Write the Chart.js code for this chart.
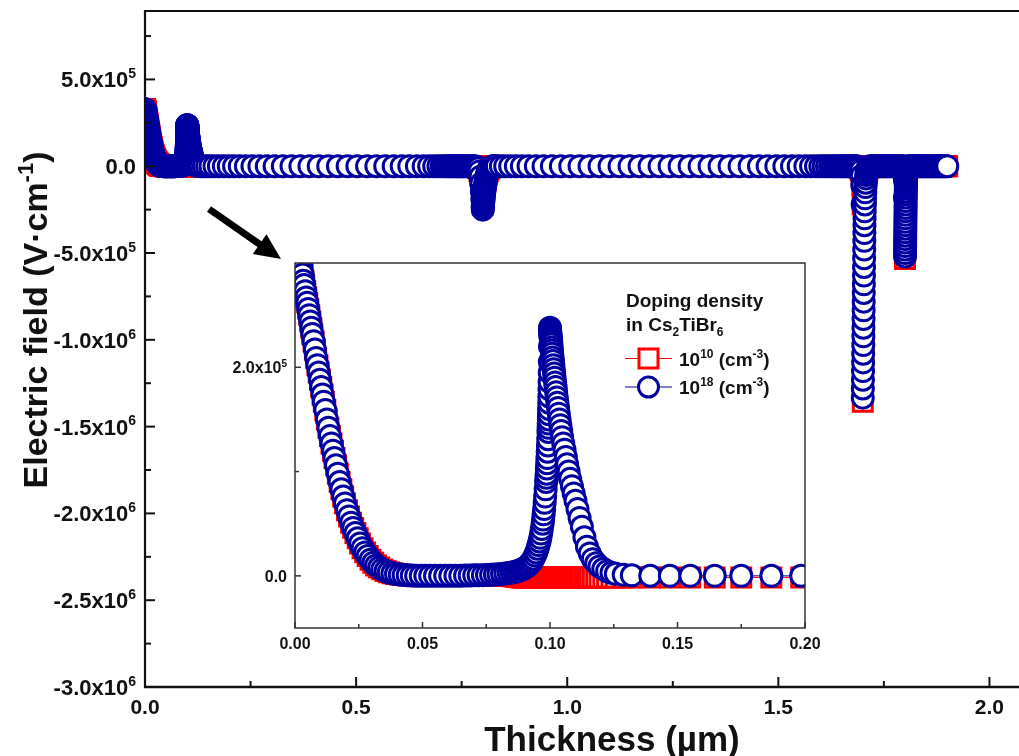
<!DOCTYPE html>
<html>
<head>
<meta charset="utf-8">
<title>Electric field vs thickness</title>
<script src="https://cdn.jsdelivr.net/npm/chart.js"></script>
<style>
  html, body { margin: 0; padding: 0; background: #fff; overflow: hidden; }
  #wrap { position: relative; width: 1019px; height: 756px; }
  #main { position: absolute; left: 0; top: 0; }
  #inset { position: absolute; left: 230px; top: 250px; }
</style>
</head>
<body>
<div id="wrap">
  <canvas id="main" width="1019" height="756"></canvas>
  <canvas id="inset" width="590" height="420"></canvas>
</div>
<script>
// ── Data: position in the stack (µm) and electric field (V/cm) ─────────────
const thickness = [
  // front layer 0 – 0.1
  0, 0.0002, 0.0004, 0.0006, 0.0008, 0.001, 0.0012, 0.0015, 0.0018, 0.0021,
  0.0024, 0.0027, 0.003, 0.0033, 0.0036, 0.004, 0.0044, 0.0048, 0.0052, 0.0056,
  0.006, 0.0064, 0.0068, 0.0073, 0.0078, 0.0083, 0.0088, 0.0093, 0.0098, 0.0103,
  0.0108, 0.0113, 0.0119, 0.0125, 0.0131, 0.0137, 0.0143, 0.0149, 0.0155, 0.0161,
  0.0168, 0.0175, 0.0182, 0.0189, 0.0196, 0.0204, 0.0212, 0.022, 0.0228, 0.0237,
  0.0246, 0.0255, 0.0265, 0.0275, 0.0285, 0.0296, 0.0307, 0.0318, 0.033, 0.0342,
  0.0355, 0.0368, 0.0382, 0.0396, 0.0411, 0.0426, 0.0442, 0.0458, 0.0475, 0.0493,
  0.0511, 0.053, 0.0549, 0.0569, 0.0589, 0.0609, 0.0629, 0.0648, 0.0667, 0.0685,
  0.0703, 0.072, 0.0737, 0.0753, 0.0769, 0.0784, 0.0798, 0.0812, 0.0825, 0.0838,
  0.085, 0.0861, 0.0871, 0.0881, 0.089, 0.0899, 0.0907, 0.0915, 0.0922, 0.0929,
  0.0935, 0.0941, 0.0946, 0.0951, 0.0955, 0.0959, 0.0962, 0.0965, 0.0968, 0.0971,
  0.0973, 0.0975, 0.0977, 0.0979, 0.0981, 0.0983, 0.0985, 0.0986, 0.0987, 0.0988,
  0.0989, 0.099, 0.0991, 0.0992, 0.0993, 0.0994, 0.09945, 0.0995, 0.09955, 0.0996,
  0.09965, 0.0997, 0.09975, 0.0998, 0.09985, 0.0999, 0.09995, 0.1,
  // second layer 0.1 – 0.8
  0.1, 0.10003, 0.10006, 0.1001, 0.10014, 0.10019, 0.10024, 0.1003, 0.10037, 0.10045,
  0.10054, 0.10064, 0.10075, 0.10087, 0.101, 0.10115, 0.1013, 0.10146, 0.10163, 0.10181,
  0.102, 0.1022, 0.10242, 0.10265, 0.1029, 0.10317, 0.10345, 0.10375, 0.10407, 0.1044,
  0.10475, 0.1052, 0.1057, 0.1062, 0.1067, 0.1073, 0.1079, 0.1086, 0.1093, 0.11,
  0.1108, 0.1116, 0.1125, 0.1135, 0.1145, 0.1156, 0.1168, 0.1181, 0.1194, 0.1209,
  0.1224, 0.1241, 0.1258, 0.1289, 0.1321, 0.1393, 0.147, 0.155, 0.1646, 0.175,
  0.1868, 0.1985,
  0.211, 0.2245, 0.239, 0.2545, 0.271, 0.2885, 0.307, 0.3265, 0.347, 0.368,
  0.3895, 0.4115, 0.434, 0.457, 0.48, 0.503, 0.526, 0.548, 0.569, 0.589,
  0.608, 0.626, 0.644, 0.66, 0.673, 0.685, 0.695, 0.703, 0.709, 0.7145,
  0.7195, 0.724, 0.728, 0.732, 0.736, 0.74, 0.744, 0.748, 0.752, 0.756,
  0.76, 0.764, 0.768, 0.772, 0.776, 0.78,
  // interface at 0.8
  0.783, 0.786, 0.789, 0.792, 0.7945, 0.7965, 0.798, 0.799, 0.7997, 0.8,
  0.8003, 0.8007, 0.8011, 0.8016, 0.8021, 0.8027, 0.8033, 0.804, 0.8047, 0.8055,
  0.8063, 0.8072, 0.8082, 0.8093, 0.8105, 0.8118, 0.8133, 0.815, 0.8169, 0.819,
  0.8213, 0.8238, 0.8265, 0.8298, 0.8334,
  // absorber 0.8 – 1.7
  0.8429, 0.8531, 0.8649, 0.8784, 0.8926, 0.9084, 0.9258, 0.9439, 0.9637, 0.985,
  1.0071, 1.0292, 1.0529, 1.0766, 1.1003, 1.124, 1.1477, 1.1714, 1.1951, 1.2188,
  1.2425, 1.2662, 1.2899, 1.3136, 1.3372, 1.3609, 1.3846, 1.4083, 1.432, 1.4542,
  1.4747, 1.4953, 1.5142, 1.5324, 1.5482, 1.564, 1.5775, 1.5893, 1.5995, 1.6074,
  1.6153, 1.6225, 1.629, 1.635, 1.6405, 1.6455, 1.65, 1.654, 1.658, 1.662,
  1.666, 1.67, 1.674, 1.678, 1.682, 1.686,
  // interface at 1.7
  1.69, 1.693, 1.6955, 1.6975, 1.699, 1.6997, 1.7,
  1.7002, 1.7004, 1.7006, 1.7008, 1.701, 1.7012, 1.7014, 1.7016, 1.7018, 1.702,
  1.7022, 1.7024, 1.7026, 1.7028, 1.703, 1.7032, 1.7034, 1.7036, 1.7038, 1.704,
  1.7043, 1.7046, 1.705, 1.7054, 1.7059, 1.7064, 1.707, 1.7077, 1.7085, 1.7094,
  1.7105, 1.712, 1.714, 1.717,
  // layer 1.7 – 1.8
  1.721, 1.725, 1.729, 1.733, 1.737, 1.741, 1.745, 1.749, 1.753, 1.757,
  1.761, 1.765, 1.769, 1.773, 1.777, 1.781, 1.785, 1.789, 1.792, 1.795,
  // interface at 1.8
  1.797, 1.7985, 1.7993, 1.7997, 1.7999, 1.8,
  1.8001, 1.8002, 1.8003, 1.8004, 1.8005, 1.8006, 1.8007, 1.8008, 1.8009, 1.801,
  1.8011, 1.8012, 1.8013, 1.8014, 1.8015, 1.8016, 1.8017, 1.8018, 1.8019, 1.802,
  1.8021, 1.8022, 1.8023, 1.8025, 1.8027, 1.8029, 1.8032, 1.8035, 1.8039, 1.8044,
  1.805, 1.8057, 1.8066, 1.8078, 1.8093,
  // back layer 1.8 – 1.9
  1.813, 1.817, 1.821, 1.825, 1.829, 1.833, 1.837, 1.841, 1.845, 1.849,
  1.853, 1.857, 1.861, 1.865, 1.869, 1.873, 1.877, 1.881, 1.885, 1.889,
  1.893, 1.897, 1.9,
];

// doping 1e10 cm^-3
const fieldLow = [
  3.30e5, 3.27e5, 3.25e5, 3.22e5, 3.19e5, 3.16e5, 3.135e5, 3.095e5, 3.05e5, 3.01e5,
  2.97e5, 2.93e5, 2.89e5, 2.83e5, 2.79e5, 2.73e5, 2.67e5, 2.62e5, 2.56e5, 2.50e5,
  2.44e5, 2.38e5, 2.32e5, 2.25e5, 2.17e5, 2.09e5, 2.02e5, 1.95e5, 1.88e5, 1.81e5,
  1.74e5, 1.67e5, 1.59e5, 1.50e5, 1.42e5, 1.34e5, 1.27e5, 1.20e5, 1.13e5, 1.06e5,
  9.8e4, 9.0e4, 8.3e4, 7.6e4, 6.95e4, 6.3e4, 5.7e4, 5.1e4, 4.6e4, 4.1e4,
  3.6e4, 3.1e4, 2.65e4, 2.25e4, 1.9e4, 1.55e4, 1.25e4, 1.0e4, 8.0e3, 6.2e3,
  4.7e3, 3.5e3, 2.5e3, 1.8e3, 1.2e3, 800, 500, 300, 200, 100,
  0, 0, 0, 0, 0, 0, 0, 0, 0, 0,
  0, 0, 0, 0, 0, 0, 0, 0, 0, 0,
  -300, -700, -1.1e3, -1.3e3, -1.5e3, -1.5e3, -1.5e3, -1.5e3, -1.5e3, -1.5e3,
  -1.5e3, -1.5e3, -1.5e3, -1.5e3, -1.5e3, -1.5e3, -1.5e3, -1.5e3, -1.5e3, -1.5e3,
  -1.5e3, -1.5e3, -1.5e3, -1.5e3, -1.5e3, -1.5e3, -1.5e3, -1.5e3, -1.5e3, -1.5e3,
  -1.5e3, -1.5e3, -1.5e3, -1.5e3, -1.5e3, -1.5e3, -1.5e3, -1.5e3, -1.5e3, -1.5e3,
  -1.5e3, -1.5e3, -1.5e3, -1.5e3, -1.5e3, -1.5e3, -1.5e3, -1.5e3,
  -1.5e3, -1.5e3, -1.5e3, -1.5e3, -1.5e3, -1.5e3, -1.5e3, -1.5e3, -1.5e3, -1.5e3,
  -1.5e3, -1.5e3, -1.5e3, -1.5e3, -1.5e3, -1.5e3, -1.5e3, -1.5e3, -1.5e3, -1.5e3,
  -1.5e3, -1.5e3, -1.5e3, -1.5e3, -1.5e3, -1.5e3, -1.5e3, -1.5e3, -1.5e3, -1.5e3,
  -1.5e3, -1.5e3, -1.5e3, -1.5e3, -1.5e3, -1.5e3, -1.5e3, -1.5e3, -1.5e3, -1.5e3,
  -1.5e3, -1.5e3, -1.5e3, -1.5e3, -1.5e3, -1.5e3, -1.5e3, -1.5e3, -1.5e3, -1.5e3,
  -1.5e3, -1.5e3, -1.5e3, -1.5e3, -1.5e3, -1.5e3, -1.5e3, -1.5e3, -1.5e3, -1.5e3,
  -1.5e3, -1.5e3,
  -1.0e3, -500, 0, 0, 0, 0, 0, 0, 0, 0,
  0, 0, 0, 0, 0, 0, 0, 0, 0, 0,
  0, 0, 0, 0, 0, 0, 0, 0, 0, 0,
  0, 0, 0, 0, 0, 0, 0, 0, 0, 0,
  0, 0, 0, 0, 0, 0,
  -1.0e3, -4.0e3, -1.1e4, -2.7e4, -5.4e4, -9.0e4, -1.3e5, -1.7e5, -2.05e5, -2.2e5,
  -2.08e5, -1.96e5, -1.84e5, -1.72e5, -1.6e5, -1.47e5, -1.35e5, -1.22e5, -1.1e5, -9.8e4,
  -8.5e4, -7.3e4, -6.0e4, -4.9e4, -3.8e4, -2.8e4, -1.9e4, -1.2e4, -7.0e3, -3.5e3,
  -1.8e3, -900, -350, 0, 0,
  0, 0, 0, 0, 0, 0, 0, 0, 0, 0,
  0, 0, 0, 0, 0, 0, 0, 0, 0, 0,
  0, 0, 0, 0, 0, 0, 0, 0, 0, 0,
  0, 0, 0, 0, 0, 0, 0, 0, 0, 0,
  0, 0, 0, 0, 0, 0, 0, 0, 0, 0,
  0, 0, 0, 0, 0, 0,
  -5.0e3, -1.2e4, -2.6e4, -5.5e4, -1.1e5, -2.2e5, -1.357e6,
  -1.303e6, -1.252e6, -1.201e6, -1.15e6, -1.099e6, -1.049e6, -9.98e5, -9.47e5, -8.96e5, -8.45e5,
  -7.94e5, -7.43e5, -6.92e5, -6.41e5, -5.9e5, -5.4e5, -4.89e5, -4.38e5, -3.92e5, -3.46e5,
  -3.05e5, -2.65e5, -2.24e5, -1.88e5, -1.53e5, -1.22e5, -9.7e4, -7.1e4, -5.1e4, -3.6e4,
  -2.0e4, -1.0e4, -4.0e3, 0,
  0, 0, 0, 0, 0, 0, 0, 0, 0, 0,
  0, 0, 0, 0, 0, 0, 0, 0, 0, 0,
  -3.0e3, -1.0e4, -3.0e4, -8.0e4, -1.8e5, -5.35e5,
  -5.15e5, -4.94e5, -4.73e5, -4.53e5, -4.32e5, -4.12e5, -3.91e5, -3.7e5, -3.5e5, -3.29e5,
  -3.09e5, -2.88e5, -2.68e5, -2.47e5, -2.26e5, -2.06e5, -1.85e5, -1.67e5, -1.49e5, -1.33e5,
  -1.17e5, -1.03e5, -9.0e4, -7.7e4, -6.5e4, -5.4e4, -4.3e4, -3.4e4, -2.6e4, -1.9e4,
  -1.2e4, -7.0e3, -3.5e3, -1.5e3, 0,
  0, 0, 0, 0, 0, 0, 0, 0, 0, 0,
  0, 0, 0, 0, 0, 0, 0, 0, 0, 0,
  0, 0, 0,
];

// doping 1e18 cm^-3
const fieldHigh = [
  3.30e5, 3.27e5, 3.25e5, 3.22e5, 3.19e5, 3.16e5, 3.135e5, 3.095e5, 3.05e5, 3.01e5,
  2.97e5, 2.93e5, 2.89e5, 2.83e5, 2.79e5, 2.73e5, 2.67e5, 2.62e5, 2.56e5, 2.50e5,
  2.44e5, 2.38e5, 2.32e5, 2.25e5, 2.17e5, 2.09e5, 2.02e5, 1.95e5, 1.88e5, 1.81e5,
  1.74e5, 1.67e5, 1.59e5, 1.50e5, 1.42e5, 1.34e5, 1.27e5, 1.20e5, 1.13e5, 1.06e5,
  9.8e4, 9.0e4, 8.3e4, 7.6e4, 6.95e4, 6.3e4, 5.7e4, 5.1e4, 4.6e4, 4.1e4,
  3.6e4, 3.1e4, 2.65e4, 2.25e4, 1.9e4, 1.55e4, 1.25e4, 1.0e4, 8.0e3, 6.2e3,
  4.7e3, 3.5e3, 2.5e3, 1.8e3, 1.2e3, 800, 500, 300, 200, 100,
  100, 100, 100, 100, 100, 100, 200, 200, 300, 400,
  500, 600, 700, 900, 1.1e3, 1.3e3, 1.6e3, 1.9e3, 2.3e3, 2.7e3,
  3.2e3, 3.8e3, 4.5e3, 5.3e3, 6.2e3, 7.3e3, 8.6e3, 1.0e4, 1.2e4, 1.4e4,
  1.65e4, 1.95e4, 2.25e4, 2.6e4, 2.95e4, 3.3e4, 3.65e4, 4.05e4, 4.5e4, 5.0e4,
  5.4e4, 5.9e4, 6.4e4, 7.0e4, 7.6e4, 8.3e4, 9.0e4, 9.4e4, 9.8e4, 1.03e5,
  1.08e5, 1.13e5, 1.19e5, 1.25e5, 1.31e5, 1.38e5, 1.42e5, 1.46e5, 1.50e5, 1.55e5,
  1.60e5, 1.66e5, 1.72e5, 1.79e5, 1.86e5, 1.95e5, 2.05e5, 2.2e5,
  2.38e5, 2.365e5, 2.35e5, 2.335e5, 2.32e5, 2.305e5, 2.29e5, 2.275e5, 2.26e5, 2.245e5,
  2.22e5, 2.19e5, 2.16e5, 2.13e5, 2.095e5, 2.06e5, 2.02e5, 1.98e5, 1.94e5, 1.90e5,
  1.855e5, 1.81e5, 1.76e5, 1.71e5, 1.66e5, 1.61e5, 1.555e5, 1.50e5, 1.445e5, 1.39e5,
  1.33e5, 1.27e5, 1.21e5, 1.14e5, 1.07e5, 1.0e5, 9.3e4, 8.6e4, 7.9e4, 7.2e4,
  6.4e4, 5.55e4, 4.7e4, 3.7e4, 2.8e4, 2.15e4, 1.6e4, 1.2e4, 9.0e3, 6.5e3,
  4.5e3, 3.0e3, 2.0e3, 1.0e3, 500, 100, 0, 0, 0, 0,
  0, 0,
  0, 0, 0, 0, 0, 0, 0, 0, 0, 0,
  0, 0, 0, 0, 0, 0, 0, 0, 0, 0,
  0, 0, 0, 0, 0, 0, 0, 0, 0, 0,
  0, 0, 0, 0, 0, 0, 0, 0, 0, 0,
  0, 0, 0, 0, 0, 0,
  -1.0e3, -4.0e3, -1.2e4, -3.0e4, -6.0e4, -1.0e5, -1.45e5, -1.9e5, -2.3e5, -2.5e5,
  -2.36e5, -2.22e5, -2.08e5, -1.94e5, -1.80e5, -1.66e5, -1.52e5, -1.38e5, -1.24e5, -1.10e5,
  -9.6e4, -8.2e4, -6.8e4, -5.5e4, -4.3e4, -3.2e4, -2.2e4, -1.4e4, -8.0e3, -4.0e3,
  -2.0e3, -1.0e3, -400, 0, 0,
  0, 0, 0, 0, 0, 0, 0, 0, 0, 0,
  0, 0, 0, 0, 0, 0, 0, 0, 0, 0,
  0, 0, 0, 0, 0, 0, 0, 0, 0, 0,
  0, 0, 0, 0, 0, 0, 0, 0, 0, 0,
  0, 0, 0, 0, 0, 0, 0, 0, 0, 0,
  0, 0, 0, 0, 0, 0,
  -5.0e3, -1.2e4, -2.6e4, -5.5e4, -1.1e5, -2.2e5, -1.333e6,
  -1.28e6, -1.23e6, -1.18e6, -1.13e6, -1.08e6, -1.03e6, -9.8e5, -9.3e5, -8.8e5, -8.3e5,
  -7.8e5, -7.3e5, -6.8e5, -6.3e5, -5.8e5, -5.3e5, -4.8e5, -4.3e5, -3.85e5, -3.4e5,
  -3.0e5, -2.6e5, -2.2e5, -1.85e5, -1.5e5, -1.2e5, -9.5e4, -7.0e4, -5.0e4, -3.5e4,
  -2.0e4, -1.0e4, -4.0e3, 0,
  0, 0, 0, 0, 0, 0, 0, 0, 0, 0,
  0, 0, 0, 0, 0, 0, 0, 0, 0, 0,
  -3.0e3, -1.0e4, -3.0e4, -8.0e4, -1.8e5, -5.2e5,
  -5.0e5, -4.8e5, -4.6e5, -4.4e5, -4.2e5, -4.0e5, -3.8e5, -3.6e5, -3.4e5, -3.2e5,
  -3.0e5, -2.8e5, -2.6e5, -2.4e5, -2.2e5, -2.0e5, -1.8e5, -1.62e5, -1.45e5, -1.29e5,
  -1.14e5, -1.0e5, -8.7e4, -7.5e4, -6.3e4, -5.2e4, -4.2e4, -3.3e4, -2.5e4, -1.8e4,
  -1.2e4, -7.0e3, -3.5e3, -1.5e3, 0,
  0, 0, 0, 0, 0, 0, 0, 0, 0, 0,
  0, 0, 0, 0, 0, 0, 0, 0, 0, 0,
  0, 0, 0,
];

// ── Tick labels ───────────────────────────────────────────────────────────
const xTickValues = [0, 0.5, 1, 1.5, 2];
const xTickText = ['0.0', '0.5', '1.0', '1.5', '2.0'];
const xMinorTicks = [0.25, 0.75, 1.25, 1.75];
const yTickValues = [5e5, 0, -5e5, -1e6, -1.5e6, -2e6, -2.5e6, -3e6];
const yTickText = ['5.0x10', '0.0', '-5.0x10', '-1.0x10', '-1.5x10', '-2.0x10', '-2.5x10', '-3.0x10'];
const yTickPower = ['5', '', '5', '6', '6', '6', '6', '6'];
const yMinorTicks = [7.5e5, 2.5e5, -2.5e5, -7.5e5, -1.25e6, -1.75e6, -2.25e6, -2.75e6];

const insetXTickValues = [0, 0.05, 0.1, 0.15, 0.2];
const insetXTickText = ['0.00', '0.05', '0.10', '0.15', '0.20'];
const insetXMinorTicks = [0.025, 0.075, 0.125, 0.175];
const insetYTickValues = [0, 2e5];
const insetYTickText = ['0.0', '2.0x10'];
const insetYTickPower = ['', '5'];
const insetYMinorTicks = [1e5];

(function () {
  'use strict';

  const FAMILY = '"Liberation Sans", Arial, Helvetica, sans-serif';
  const BLUE = '#0000a0';
  const RED = '#ff0000';
  const INK = '#111';

  // ── Text helper: runs of normal / superscript / subscript text ──────────
  function drawRuns(ctx, runs, x, y, size, align) {
    const fontFor = (k) => `bold ${k ? Math.round(size * 0.64) : size}px ${FAMILY}`;
    let total = 0;
    const widths = runs.map(([t, k]) => {
      ctx.font = fontFor(k);
      const w = ctx.measureText(t).width;
      total += w;
      return w;
    });
    let cx = align === 'right' ? x - total : align === 'center' ? x - total / 2 : x;
    ctx.textAlign = 'left';
    ctx.textBaseline = 'alphabetic';
    runs.forEach(([t, k], i) => {
      ctx.font = fontFor(k);
      const dy = k === 'sup' ? -size * 0.42 : k === 'sub' ? size * 0.28 : 0;
      ctx.fillText(t, cx, y + dy);
      cx += widths[i];
    });
  }

  function line(ctx, x1, y1, x2, y2, w, color) {
    ctx.beginPath();
    ctx.lineWidth = w;
    ctx.strokeStyle = color;
    ctx.moveTo(x1, y1);
    ctx.lineTo(x2, y2);
    ctx.stroke();
  }

  // ── Datasets (same series in main plot and inset) ───────────────────────
  function datasets() {
    return [
      {
        label: '1e18',
        data: thickness.map((x, i) => ({ x, y: fieldHigh[i] })),
        showLine: true,
        borderColor: BLUE,
        borderWidth: 1,
        pointStyle: 'circle',
        pointRadius: 10.5,
        pointBorderWidth: 3,
        pointBorderColor: BLUE,
        pointBackgroundColor: '#ffffff',
        order: 0,
      },
      {
        label: '1e10',
        data: thickness.map((x, i) => ({ x, y: fieldLow[i] })),
        showLine: true,
        borderColor: RED,
        borderWidth: 1,
        pointStyle: 'rect',
        pointRadius: 13.4,
        pointBorderWidth: 3,
        pointBorderColor: RED,
        pointBackgroundColor: '#ffffff',
        order: 1,
      },
    ];
  }

  function hiddenAxis(min, max, fit) {
    return {
      type: 'linear',
      min,
      max,
      ticks: { display: false },
      grid: { display: false },
      border: { display: false },
      afterFit: fit,
    };
  }

  // ── Main plot decorations: frame, inner ticks, labels, arrow ───────────
  const mainDecor = {
    id: 'mainDecor',
    afterDraw(chart) {
      const { ctx, chartArea: a, scales } = chart;
      const sx = scales.x;
      const sy = scales.y;
      ctx.save();

      line(ctx, a.left, a.top, a.left, a.bottom + 1, 2.2, INK);
      line(ctx, a.left - 1, a.bottom, a.right, a.bottom, 2.5, INK);
      line(ctx, a.left - 1, a.top + 1, a.right, a.top + 1, 2, INK);

      ctx.fillStyle = INK;
      yTickValues.forEach((v, i) => {
        const py = sy.getPixelForValue(v);
        line(ctx, a.left, py, a.left + 10, py, 2, INK);
        const runs = [[yTickText[i]]];
        if (yTickPower[i]) runs.push([yTickPower[i], 'sup']);
        drawRuns(ctx, runs, a.left - 9, py + 8, 22, 'right');
      });
      yMinorTicks.forEach((v) => {
        const py = sy.getPixelForValue(v);
        line(ctx, a.left, py, a.left + 6, py, 2, INK);
      });

      xTickValues.forEach((v, i) => {
        const px = sx.getPixelForValue(v);
        line(ctx, px, a.bottom, px, a.bottom - 10, 2, INK);
        drawRuns(ctx, [[xTickText[i]]], px, a.bottom + 27, 21, 'center');
      });
      xMinorTicks.forEach((v) => {
        const px = sx.getPixelForValue(v);
        line(ctx, px, a.bottom, px, a.bottom - 6, 2, INK);
      });

      // axis titles
      drawRuns(ctx, [['Thickness (µm)']], 612, 751, 35, 'center');
      ctx.save();
      ctx.translate(47, 320);
      ctx.rotate(-Math.PI / 2);
      drawRuns(ctx, [['Electric field (V·cm'], ['-1', 'sup'], [')']], 0, 0, 34, 'center');
      ctx.restore();

      // arrow pointing at the magnified region
      const tail = [209, 209];
      const tip = [281, 259];
      const dx = tip[0] - tail[0];
      const dy = tip[1] - tail[1];
      const len = Math.hypot(dx, dy);
      const ux = dx / len;
      const uy = dy / len;
      const head = 26;
      const half = 12;
      const bx = tip[0] - ux * head;
      const by = tip[1] - uy * head;
      line(ctx, tail[0], tail[1], bx + ux * 2, by + uy * 2, 7, '#000');
      ctx.beginPath();
      ctx.fillStyle = '#000';
      ctx.moveTo(tip[0], tip[1]);
      ctx.lineTo(bx - uy * half, by + ux * half);
      ctx.lineTo(bx + uy * half, by - ux * half);
      ctx.closePath();
      ctx.fill();

      ctx.restore();
    },
  };

  // ── Inset decorations: white panel, frame, ticks, legend ───────────────
  const insetDecor = {
    id: 'insetDecor',
    beforeDraw(chart) {
      const { ctx, chartArea: a } = chart;
      ctx.save();
      ctx.fillStyle = '#ffffff';
      ctx.fillRect(a.left, a.top, a.right - a.left, a.bottom - a.top);
      ctx.restore();
    },
    afterDraw(chart) {
      const { ctx, chartArea: a, scales } = chart;
      const sx = scales.x;
      const sy = scales.y;
      const FR = '#333';
      ctx.save();

      ctx.lineWidth = 1.5;
      ctx.strokeStyle = FR;
      ctx.strokeRect(a.left, a.top, a.right - a.left, a.bottom - a.top);

      ctx.fillStyle = INK;
      insetXTickValues.forEach((v, i) => {
        const px = sx.getPixelForValue(v);
        line(ctx, px, a.bottom, px, a.bottom - 6, 1.5, FR);
        drawRuns(ctx, [[insetXTickText[i]]], px, a.bottom + 21, 16, 'center');
      });
      insetXMinorTicks.forEach((v) => {
        const px = sx.getPixelForValue(v);
        line(ctx, px, a.bottom, px, a.bottom - 4, 1.5, FR);
      });
      insetYTickValues.forEach((v, i) => {
        const py = sy.getPixelForValue(v);
        line(ctx, a.left, py, a.left + 6, py, 1.5, FR);
        const runs = [[insetYTickText[i]]];
        if (insetYTickPower[i]) runs.push([insetYTickPower[i], 'sup']);
        drawRuns(ctx, runs, a.left - 8, py + 6, 16, 'right');
      });
      insetYMinorTicks.forEach((v) => {
        const py = sy.getPixelForValue(v);
        line(ctx, a.left, py, a.left + 4, py, 1.5, FR);
      });

      // legend
      const lx = 396;
      drawRuns(ctx, [['Doping density']], lx, 57, 19, 'left');
      drawRuns(ctx, [['in Cs'], ['2', 'sub'], ['TiBr'], ['6', 'sub']], lx, 81, 19, 'left');

      const r1 = 108.5;
      line(ctx, 395, r1, 442, r1, 1, RED);
      ctx.fillStyle = '#fff';
      ctx.fillRect(409, r1 - 9.5, 19, 19);
      ctx.lineWidth = 3;
      ctx.strokeStyle = RED;
      ctx.strokeRect(409, r1 - 9.5, 19, 19);
      ctx.fillStyle = INK;
      drawRuns(ctx, [['10'], ['10', 'sup'], [' (cm'], ['-3', 'sup'], [')']], 449, r1 + 7, 19, 'left');

      const r2 = 137;
      line(ctx, 395, r2, 442, r2, 1, BLUE);
      ctx.beginPath();
      ctx.fillStyle = '#fff';
      ctx.arc(418.5, r2, 10, 0, Math.PI * 2);
      ctx.fill();
      ctx.lineWidth = 3;
      ctx.strokeStyle = BLUE;
      ctx.stroke();
      ctx.fillStyle = INK;
      drawRuns(ctx, [['10'], ['18', 'sup'], [' (cm'], ['-3', 'sup'], [')']], 449, r2 + 7, 19, 'left');

      ctx.restore();
    },
  };

  const common = {
    responsive: false,
    animation: false,
    devicePixelRatio: 1,
    events: [],
    plugins: { legend: { display: false }, tooltip: { enabled: false } },
  };

  // ── Main chart ──────────────────────────────────────────────────────────
  new Chart(document.getElementById('main'), {
    type: 'scatter',
    data: { datasets: datasets() },
    options: Object.assign({}, common, {
      layout: { autoPadding: false, padding: { top: 10, right: 0, bottom: 0, left: 0 } },
      scales: {
        x: hiddenAxis(0, 2.07, (s) => { s.height = 69; }),
        y: hiddenAxis(-3e6, 9e5, (s) => { s.width = 145; }),
      },
    }),
    plugins: [mainDecor],
  });

  // ── Inset: first 0.2 µm magnified ───────────────────────────────────────
  new Chart(document.getElementById('inset'), {
    type: 'scatter',
    data: { datasets: datasets() },
    options: Object.assign({}, common, {
      layout: { autoPadding: false, padding: { top: 13, right: 15, bottom: 0, left: 0 } },
      scales: {
        x: hiddenAxis(0, 0.2, (s) => { s.height = 42; }),
        y: hiddenAxis(-5e4, 3e5, (s) => { s.width = 65; }),
      },
    }),
    plugins: [insetDecor],
  });
})();
</script>
</body>
</html>
